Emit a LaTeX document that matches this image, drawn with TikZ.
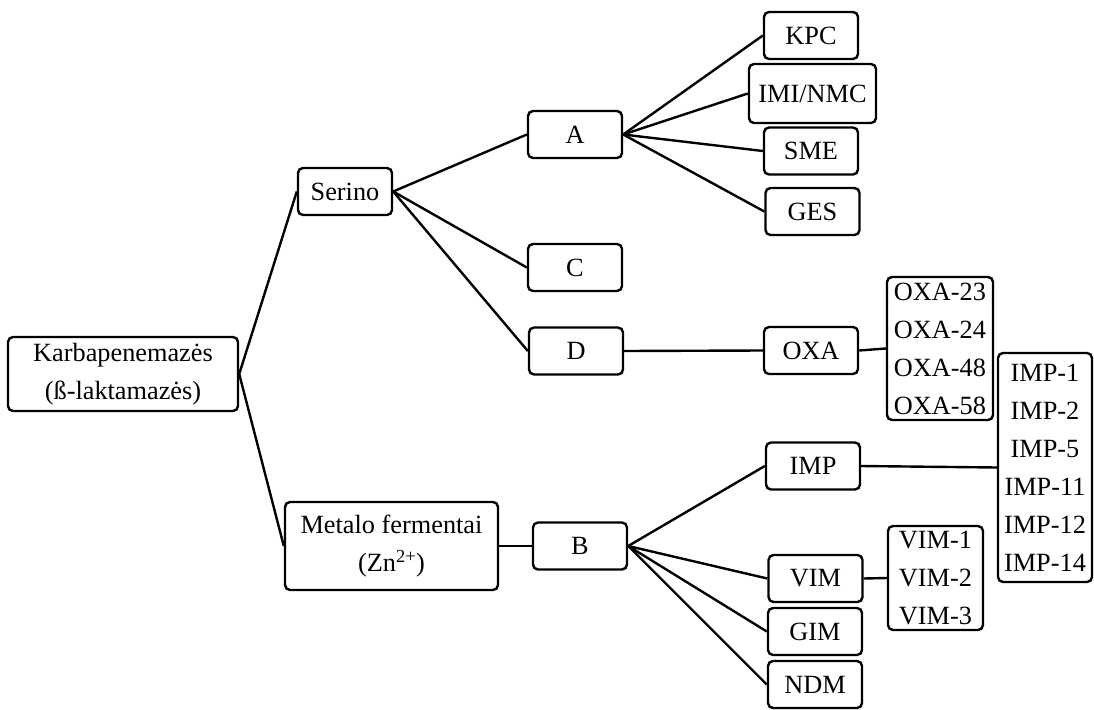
\documentclass[tikz,border=0pt]{standalone}
\usepackage{fontspec}
\setmainfont{Liberation Serif}
\usetikzlibrary{positioning}
\tikzset{
  box/.style={draw, line width=2.4pt, rounded corners=5pt, inner sep=0pt,
    minimum width=94pt, minimum height=47pt, align=center},
  link/.style={line width=2.4pt}
}

\begin{document}
\begin{tikzpicture}[x=1pt, y=-1pt, font=\fontsize{26.3}{38}\selectfont]
    \useasboundingbox (0,0) rectangle (1094,709);

    % Root
    \node[box, minimum width=230pt, minimum height=74pt] (karb) at (123,374) {Karbapenemazės\\(ß-laktamazės)};

    % Serine branch
    \node[box] (serino) at (345,191.5) {Serino};
    \node[box] (a) at (575,134.5) {A};
    \node[box] (c) at (575,267.5) {C};
    \node[box] (d) at (576,351) {D};
    \node[box] (kpc) at (811,35.5) {KPC};
    \node[box, minimum width=127pt, minimum height=59pt] (imi) at (812.5,93.5) {IMI/NMC};
    \node[box] (sme) at (811,151) {SME};
    \node[box] (ges) at (812.5,211.5) {GES};
    \node[box] (oxa) at (811,350.5) {OXA};
    \node[box, minimum width=106pt, minimum height=143pt] (oxalist) at (940,348.5) {OXA-23\\OXA-24\\OXA-48\\OXA-58};

    % Metallo branch
    \node[box, minimum width=213pt, minimum height=88pt] (metalo) at (391.5,546) {Metalo fermentai\\(Zn\textsuperscript{2+})};
    \node[box] (b) at (580,546) {B};
    \node[box] (imp) at (813,466) {IMP};
    \node[box] (vim) at (815.5,578.5) {VIM};
    \node[box] (gim) at (815,631.5) {GIM};
    \node[box] (ndm) at (815,684.5) {NDM};
    \node[box, minimum height=229pt] (implist) at (1045,467.5) {IMP-1\\IMP-2\\IMP-5\\IMP-11\\IMP-12\\IMP-14};
    \node[box, minimum width=95pt, minimum height=104pt] (vimlist) at (935.5,578) {VIM-1\\VIM-2\\VIM-3};

    % Connectors
    \draw[link] (karb.east) -- (serino.west);
    \draw[link] (karb.east) -- (metalo.west);
    \foreach \n in {a,c,d}
        \draw[link] (serino.east) -- (\n.west);
    \foreach \n in {kpc,imi,sme,ges}
        \draw[link] (a.east) -- (\n.west);
    \draw[link] (d.east) -- (oxa.west);
    \draw[link] (oxa.east) -- (oxalist.west);
    \draw[link] (metalo.east) -- (b.west);
    \foreach \n in {imp,vim,gim,ndm}
        \draw[link] (b.east) -- (\n.west);
    \draw[link] (imp.east) -- (implist.west);
    \draw[link] (vim.east) -- (vimlist.west);
\end{tikzpicture}
\end{document}
